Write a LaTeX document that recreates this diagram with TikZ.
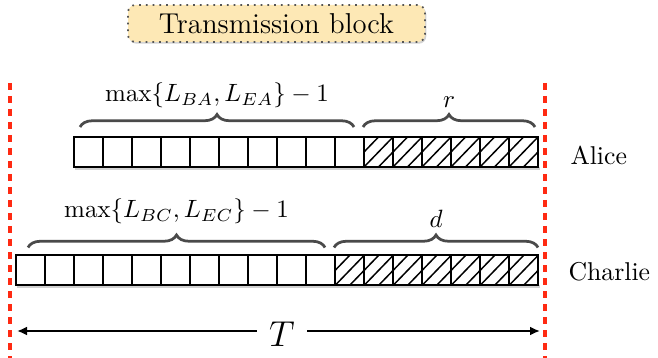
\documentclass[tikz,border=0pt]{standalone}
\usepackage{tikz}
\usetikzlibrary{arrows.meta,calc,decorations.pathreplacing,shadows,backgrounds}
\definecolor{blockfill}{HTML}{FDE8B5}
\definecolor{bordergrey}{HTML}{555555}
\definecolor{bracegrey}{HTML}{4A4A4A}
\definecolor{limitred}{HTML}{FF2A12}

\begin{document}
\begin{tikzpicture}[x=0.4pt,y=-0.4pt,
  cell/.style={draw=black,fill=white,line width=0.8pt,minimum width=11.6pt,
               minimum height=12pt,inner sep=0pt,outer sep=0pt},
  hatchcell/.style={cell,path picture={\draw[line width=0.6pt]
      (path picture bounding box.south west)--(path picture bounding box.north east)
      (path picture bounding box.west)--(path picture bounding box.north)
      (path picture bounding box.south)--(path picture bounding box.east);}},
  brc/.style={decorate,decoration={brace,amplitude=5pt},draw=bracegrey,line width=1.1pt},
  lbl/.style={midway,anchor=base},
  user/.style={anchor=west,inner sep=0pt,font=\fontsize{10.3}{12}\selectfont},
  limit/.style={draw=limitred,line width=1.4pt,dash pattern=on 2.8pt off 2.4pt},
  arrw/.style={-{Latex[length=4pt,width=3.6pt]},line width=0.9pt},
  block/.style={draw=bordergrey,dotted,line width=0.7pt,fill=blockfill,rounded corners=3pt,
                minimum width=118.8pt,minimum height=14.8pt,font=\fontsize{11.5}{13}\selectfont,
                drop shadow={shadow xshift=0.5pt,shadow yshift=-0.7pt,opacity=0.35}}]
\useasboundingbox (0,0) rectangle (658,358);

\node[block] (tblock) at (276.5,23.5) {Transmission block};

% time limits of the block
\coordinate (ltop) at (10,83);  \coordinate (lbot) at (10,358);
\coordinate (rtop) at (545,83); \coordinate (rbot) at (545,358);
\draw[limit] (ltop)--(lbot);
\draw[limit] (rtop)--(rbot);

% Alice: 10 plain + 6 hatched symbols
\foreach \i in {1,...,10} \node[cell] (a\i) at ({74+29*(\i-0.5)},152) {};
\foreach \i in {11,...,16} \node[hatchcell] (a\i) at ({74+29*(\i-0.5)},152) {};
% Charlie: 11 plain + 7 hatched symbols
\foreach \i in {1,...,11} \node[cell] (c\i) at ({16+29*(\i-0.5)},270.5) {};
\foreach \i in {12,...,18} \node[hatchcell] (c\i) at ({16+29*(\i-0.5)},270.5) {};

\begin{scope}[on background layer]
  \fill[black,opacity=0.18] ($(a1.south west)+(1,0)$) rectangle ($(a16.south east)+(2,3)$);
  \fill[black,opacity=0.18] ($(c1.south west)+(1,0)$) rectangle ($(c18.south east)+(2,3)$);
\end{scope}

\node[user] (alice) at (570,155) {Alice};
\node[user] (charlie) at (568,272) {Charlie};

\draw[brc] ($(a1.north west)+(6,-10)$) -- node[lbl,yshift=10pt]{$\max\{L_{BA},L_{EA}\}-1$}
  ($(a10.north east)+(-10,-10)$);
\draw[brc] ($(a11.north west)+(-1,-10)$) -- node[lbl,yshift=7.6pt]{$r$}
  ($(a16.north east)+(-3,-10)$);
\draw[brc] ($(c1.north west)+(12,-8)$) -- node[lbl,yshift=12pt]{$\max\{L_{BC},L_{EC}\}-1$}
  ($(c11.north east)+(-10,-8)$);
\draw[brc] ($(c12.north west)+(-1,-8)$) -- node[lbl,yshift=8pt]{$d$}
  ($(c18.north east)+(0,-8)$);

% block length
\node[font=\fontsize{14.4}{16}\selectfont,inner xsep=4.8pt,inner ysep=0pt] (tlen) at (282,334.5) {$T$};
\coordinate (tl) at (17,331); \coordinate (tr) at (540,331);
\draw[arrw] (tlen.west |- tl) -- (tl);
\draw[arrw] (tlen.east |- tr) -- (tr);
\end{tikzpicture}
\end{document}
